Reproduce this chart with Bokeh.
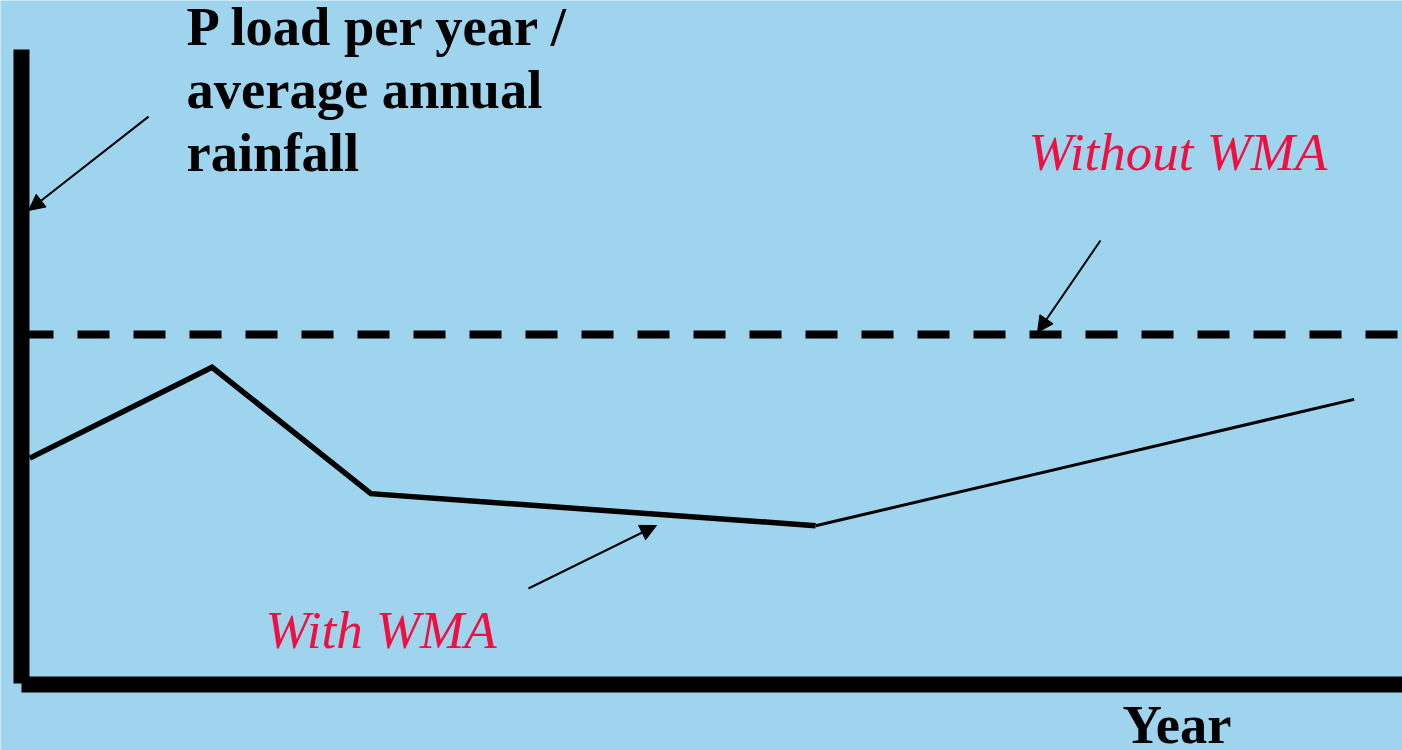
from bokeh.plotting import figure
from bokeh.models import Range1d, Label, Arrow, NormalHead
from bokeh.embed import file_html
from bokeh.resources import INLINE

# Phosphorus load per year / average annual rainfall (schematic)
years = [0.06, 1.38, 2.53, 5.75, 9.65]
load_with_wma = [3.30, 4.63, 2.78, 2.31, 4.16]
load_without_wma = 5.11
year_span = [0.0, 10.0]

BG = "#9ed4ee"
RED = "#ee1040"
SERIF = "Liberation Serif"

p = figure(width=1402, height=750, output_backend="svg", toolbar_location=None,
           x_range=Range1d(-0.152, 10.0), y_range=Range1d(-0.981, 10.0),
           x_axis_type=None, y_axis_type=None, min_border=0)
p.background_fill_color = BG
p.border_fill_color = BG
p.outline_line_color = None
p.grid.visible = False

# baseline scenario: constant load without WMA
p.line(year_span, [load_without_wma, load_without_wma], line_color="black",
       line_width=8, line_dash="32 24", line_cap="butt")

# with WMA: thicker early segments, thinner final trend
p.line(years[:4], load_with_wma[:4], line_color="black", line_width=5.5,
       line_join="miter")
p.line(years[3:], load_with_wma[3:], line_color="black", line_width=3)

# hand-drawn style axes
p.segment(x0=[0.0], y0=[9.283], x1=[0.0], y1=[0.0], line_color="black",
          line_width=16, line_cap="butt")
p.segment(x0=[0.0], y0=[-0.015], x1=[10.0], y1=[-0.015], line_color="black",
          line_width=16, line_cap="butt")

# pointer arrows
for xs, ys, xe, ye in [(0.920, 8.30, 0.051, 6.925),
                       (7.813, 6.486, 7.357, 5.139),
                       (3.671, 1.391, 4.598, 2.313)]:
    p.add_layout(Arrow(x_start=xs, y_start=ys, x_end=xe, y_end=ye,
                       line_color="black", line_width=2,
                       end=NormalHead(size=16, fill_color="black",
                                      line_color="black", line_width=1)))

def add_text(x, y, txt, color="black", style="bold", size="54.5px"):
    p.add_layout(Label(x=x, y=y, text=txt, text_color=color,
                       text_font=SERIF, text_font_style=style,
                       text_font_size=size, text_baseline="alphabetic",
                       text_align="left"))

add_text(1.195, 9.62, "P load per year /")
add_text(1.195, 8.70, "average annual")
add_text(1.195, 7.77, "rainfall")
add_text(7.292, 7.78, "Without WMA", color=RED, style="italic", size="53px")
add_text(1.767, 0.79, "With WMA", color=RED, style="italic", size="53px")
add_text(7.972, -0.60, "Year")

open("out.html", "w").write(file_html(p, INLINE))
